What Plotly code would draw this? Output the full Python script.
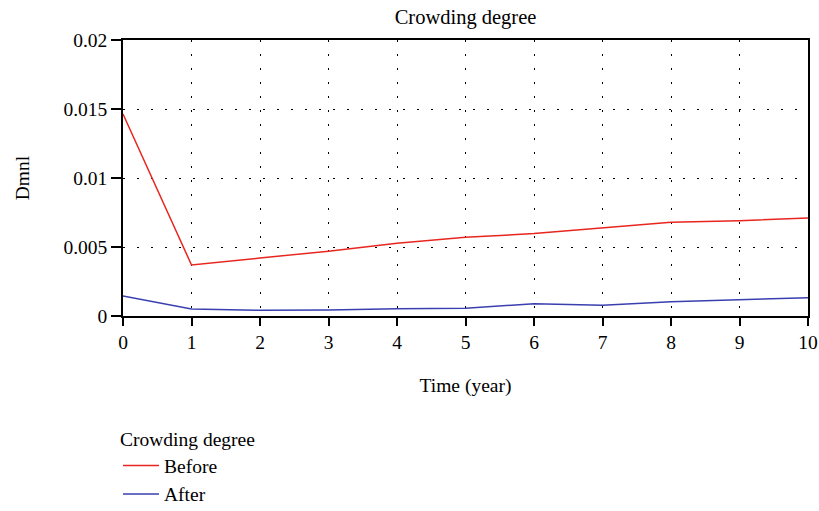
import plotly.graph_objects as go

years = [0, 1, 2, 3, 4, 5, 6, 7, 8, 9, 10]
before = [0.01464, 0.0037, 0.0042, 0.0047, 0.00527, 0.0057, 0.00597, 0.00638, 0.00679, 0.0069, 0.0071]
after = [0.00145, 0.0005, 0.00041, 0.00043, 0.00053, 0.00056, 0.00089, 0.00077, 0.00104, 0.00116, 0.00133]

y_ticks = [0, 0.005, 0.01, 0.015, 0.02]
y_labels = ["0", "0.005", "0.01", "0.015", "0.02"]
x_ticks = list(range(0, 11))

FONT = "Liberation Serif"
FS = 19.5

fig = go.Figure()
fig.add_trace(go.Scatter(x=years, y=before, mode="lines", name="Before",
                         line=dict(color="#e8261f", width=1.5)))
fig.add_trace(go.Scatter(x=years, y=after, mode="lines", name="After",
                         line=dict(color="#3a3fb0", width=1.5)))

axis_common = dict(showline=True, linecolor="black", linewidth=1.5, mirror=True,
                   ticks="outside", tickcolor="black", tickwidth=1.5,
                   showgrid=True, gridcolor="black", gridwidth=1, griddash="2px,12px",
                   zeroline=False, automargin=False,
                   tickfont=dict(family=FONT, size=FS, color="black"))

fig.update_layout(
    width=819, height=511,
    margin=dict(l=123, r=11, t=40, b=195),
    paper_bgcolor="white", plot_bgcolor="white",
    font=dict(family=FONT, size=FS, color="black"),
    title=dict(text="Crowding degree", x=0.5, xanchor="center", xref="paper",
               y=1 - 17 / 511, yanchor="middle", yref="container",
               font=dict(family=FONT, size=20.5, color="black")),
    xaxis=dict(range=[0, 10], tickvals=x_ticks, ticklen=8,
               title=dict(text="Time (year)", standoff=26,
                          font=dict(family=FONT, size=FS)),
               **axis_common),
    yaxis=dict(range=[0, 0.02], tickvals=y_ticks, ticktext=y_labels, ticklen=10,
               title=dict(text="Dmnl", standoff=29,
                          font=dict(family=FONT, size=FS)),
               **axis_common),
    showlegend=True,
    legend=dict(x=-5 / 685, xanchor="left", xref="paper",
                y=1 - 421 / 511, yanchor="top", yref="container",
                orientation="v", bgcolor="rgba(0,0,0,0)", itemwidth=36,
                title=dict(text="Crowding degree", side="top",
                           font=dict(family=FONT, size=FS)),
                font=dict(family=FONT, size=FS, color="black"),
                tracegroupgap=0),
)

fig.write_html("out.html", config={"displayModeBar": False},
               post_script="document.body.style.margin='0';")
